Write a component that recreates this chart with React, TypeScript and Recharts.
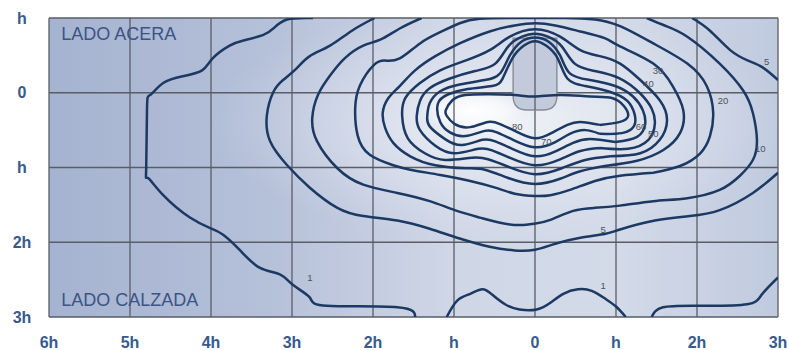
import {
  CartesianGrid,
  Line,
  LineChart,
  ReferenceArea,
  ReferenceDot,
  XAxis,
  YAxis,
} from "recharts";

// axes are in multiples of the mounting height h
const xTicks = [-6, -5, -4, -3, -2, -1, 0, 1, 2, 3];
const yTicks = [-1, 0, 1, 2, 3];

// isolux curves, [x, y] in h units (y grows downwards, towards the road)
const iso1Left: [number, number][] = [
  [-2.74, -1.0], [-3.06, -0.98], [-3.23, -0.86], [-3.36, -0.77], [-3.6, -0.7],
  [-3.77, -0.63], [-3.98, -0.46], [-4.11, -0.3], [-4.35, -0.22], [-4.59, -0.13],
  [-4.75, 0.03], [-4.79, 0.21], [-4.8, 1.01], [-4.78, 1.14], [-4.59, 1.37],
  [-4.26, 1.67], [-4.01, 1.81], [-3.85, 1.9], [-3.64, 2.11], [-3.4, 2.34],
  [-3.15, 2.43], [-2.99, 2.57], [-2.78, 2.74], [-2.57, 2.85], [-1.7, 2.87],
  [-1.48, 3.0],
];
const iso1Mid: [number, number][] = [
  [-1.09, 3.0], [-0.96, 2.78], [-0.8, 2.69], [-0.65, 2.63], [-0.53, 2.7],
  [-0.37, 2.83], [-0.19, 2.9], [0.02, 2.9], [0.19, 2.81], [0.35, 2.69],
  [0.53, 2.63], [0.7, 2.65], [0.86, 2.75], [1.0, 2.86], [1.12, 3.0],
];
const iso1Right: [number, number][] = [
  [1.44, 3.0], [1.58, 2.87], [2.04, 2.85], [2.62, 2.83], [2.8, 2.7], [3.0, 2.47],
];
const iso5: [number, number][] = [
  [-1.98, -1.0], [-2.26, -0.83], [-2.53, -0.63], [-2.78, -0.49], [-2.94, -0.33],
  [-3.11, -0.17], [-3.23, -0.01], [-3.31, 0.3], [-3.27, 0.65], [-3.06, 0.97],
  [-2.78, 1.27], [-2.44, 1.54], [-2.12, 1.65], [-1.7, 1.71], [-1.3, 1.82],
  [-0.93, 1.95], [-0.56, 2.06], [-0.25, 2.11], [0.0, 2.1], [0.25, 2.02],
  [0.56, 1.94], [0.86, 1.89], [1.05, 1.83], [1.48, 1.71], [1.91, 1.65],
  [2.28, 1.57], [2.69, 1.34], [3.0, 1.07],
];
const iso5Corner: [number, number][] = [
  [1.94, -1.0], [2.16, -0.83], [2.41, -0.57], [2.63, -0.43], [2.81, -0.34], [3.0, -0.17],
];
const iso10: [number, number][] = [
  [-1.4, -1.0], [-1.67, -0.86], [-1.91, -0.71], [-2.12, -0.63], [-2.35, -0.46],
  [-2.53, -0.23], [-2.68, 0.03], [-2.75, 0.34], [-2.69, 0.65], [-2.44, 1.01],
  [-2.12, 1.23], [-1.7, 1.34], [-1.3, 1.45], [-0.99, 1.57], [-0.68, 1.67],
  [-0.43, 1.74], [-0.19, 1.77], [0.0, 1.75], [0.19, 1.7], [0.47, 1.58],
  [0.74, 1.54], [1.05, 1.51], [1.46, 1.45], [1.88, 1.41], [2.28, 1.3],
  [2.53, 1.11], [2.69, 0.9], [2.74, 0.63], [2.69, 0.27], [2.57, -0.03],
  [2.28, -0.39], [1.88, -0.75], [1.6, -0.9], [1.38, -1.0],
];
const iso20: [number, number][] = [
  [-1.67, -0.46], [-1.42, -0.66], [-1.17, -0.81], [-0.93, -0.93], [-0.68, -0.99],
  [-0.31, -1.0], [0.0, -1.0], [0.37, -1.0], [0.74, -0.98], [1.05, -0.89],
  [1.46, -0.66], [1.88, -0.39], [2.12, -0.09], [2.2, 0.27], [2.16, 0.58],
  [2.04, 0.81], [1.79, 0.98], [1.46, 1.07], [1.05, 1.11], [0.74, 1.18],
  [0.43, 1.3], [0.19, 1.37], [0.0, 1.38], [-0.25, 1.35], [-0.49, 1.27],
  [-0.8, 1.18], [-1.17, 1.1], [-1.54, 1.03], [-1.75, 0.97], [-2.04, 0.83],
  [-2.19, 0.57], [-2.22, 0.21], [-2.16, -0.1], [-1.99, -0.37], [-1.85, -0.43],
];
const iso30: [number, number][] = [
  [-1.81, 0.07], [-1.67, -0.09], [-1.48, -0.3], [-1.23, -0.49], [-0.93, -0.66],
  [-0.56, -0.82], [-0.25, -0.9], [0.0, -0.93], [0.25, -0.9], [0.56, -0.82],
  [0.86, -0.73], [1.05, -0.62], [1.46, -0.39], [1.7, -0.09], [1.83, 0.23],
  [1.79, 0.54], [1.58, 0.77], [1.26, 0.91], [0.86, 0.98], [0.56, 1.05],
  [0.31, 1.15], [0.0, 1.22], [-0.33, 1.14], [-0.62, 1.03], [-0.86, 1.01],
  [-1.23, 0.97], [-1.54, 0.85], [-1.75, 0.67], [-1.85, 0.47], [-1.88, 0.27],
];
const iso40: [number, number][] = [
  [-1.6, 0.07], [-1.42, -0.13], [-1.17, -0.3], [-0.86, -0.43], [-0.56, -0.57],
  [-0.31, -0.75], [0.0, -0.85], [0.31, -0.75], [0.56, -0.57], [0.8, -0.49],
  [1.05, -0.39], [1.3, -0.17], [1.54, 0.1], [1.63, 0.37], [1.54, 0.63],
  [1.3, 0.81], [0.93, 0.85], [0.62, 0.9], [0.33, 1.01], [0.0, 1.09],
  [-0.33, 0.99], [-0.58, 0.89], [-0.78, 0.87], [-1.11, 0.9], [-1.36, 0.81],
  [-1.57, 0.61], [-1.64, 0.31],
];
const iso50: [number, number][] = [
  [-1.42, 0.11], [-1.3, -0.06], [-1.05, -0.19], [-0.74, -0.29], [-0.49, -0.39],
  [-0.33, -0.62], [-0.16, -0.75], [0.0, -0.79], [0.16, -0.75], [0.33, -0.62],
  [0.49, -0.39], [0.74, -0.29], [1.05, -0.19], [1.3, 0.01], [1.44, 0.21],
  [1.48, 0.41], [1.4, 0.63], [1.15, 0.75], [0.8, 0.74], [0.56, 0.78],
  [0.31, 0.89], [0.0, 0.97], [-0.31, 0.87], [-0.53, 0.77], [-0.7, 0.75],
  [-0.99, 0.81], [-1.23, 0.71], [-1.42, 0.5], [-1.46, 0.31],
];
const iso60: [number, number][] = [
  [-1.3, 0.14], [-1.17, -0.02], [-0.93, -0.11], [-0.62, -0.17], [-0.43, -0.26],
  [-0.31, -0.5], [-0.16, -0.69], [0.0, -0.74], [0.16, -0.69], [0.31, -0.5],
  [0.43, -0.26], [0.68, -0.17], [0.99, -0.09], [1.21, 0.05], [1.33, 0.23],
  [1.36, 0.42], [1.26, 0.59], [0.99, 0.66], [0.68, 0.62], [0.47, 0.67],
  [0.26, 0.78], [0.0, 0.85], [-0.28, 0.75], [-0.49, 0.65], [-0.65, 0.63],
  [-0.9, 0.7], [-1.11, 0.62], [-1.3, 0.45], [-1.33, 0.31],
];
const iso70: [number, number][] = [
  [-1.2, 0.15], [-1.07, 0.02], [-0.83, -0.05], [-0.53, -0.09], [-0.4, -0.19],
  [-0.28, -0.46], [-0.14, -0.63], [0.0, -0.69], [0.14, -0.63], [0.28, -0.46],
  [0.4, -0.19], [0.62, -0.09], [0.93, -0.01], [1.14, 0.11], [1.23, 0.29],
  [1.22, 0.45], [1.07, 0.54], [0.8, 0.55], [0.62, 0.5], [0.43, 0.55],
  [0.25, 0.66], [0.0, 0.73], [-0.27, 0.63], [-0.47, 0.53], [-0.62, 0.51],
  [-0.86, 0.58], [-1.05, 0.53], [-1.17, 0.39],
];
const iso80: [number, number][] = [
  [-1.1, 0.23], [-1.02, 0.1], [-0.86, 0.03], [-0.56, 0.02], [-0.25, 0.03],
  [0.0, 0.05], [0.31, 0.03], [0.68, 0.05], [0.95, 0.07], [1.1, 0.18],
  [1.15, 0.31], [1.05, 0.39], [0.8, 0.43], [0.56, 0.39], [0.4, 0.43],
  [0.22, 0.53], [0.0, 0.61], [-0.25, 0.51], [-0.43, 0.42], [-0.58, 0.39],
  [-0.8, 0.46], [-0.99, 0.42], [-1.09, 0.31],
];

const openCurves = [iso1Left, iso1Mid, iso1Right, iso5, iso5Corner, iso10];
// closed curves with the index where the loop is joined
const closedCurves: { pts: [number, number][]; seam: number }[] = [
  { pts: iso20, seam: 17 },
  { pts: iso30, seam: 18 },
  { pts: iso40, seam: 16 },
  { pts: iso50, seam: 18 },
  { pts: iso60, seam: 17 },
  { pts: iso70, seam: 17 },
  { pts: iso80, seam: 12 },
];

const curveLabels = [
  { text: "5", x: 2.86, y: -0.42 },
  { text: "30", x: 1.52, y: -0.3 },
  { text: "40", x: 1.4, y: -0.13 },
  { text: "20", x: 2.32, y: 0.11 },
  { text: "10", x: 2.78, y: 0.74 },
  { text: "60", x: 1.31, y: 0.45 },
  { text: "50", x: 1.46, y: 0.55 },
  { text: "80", x: -0.22, y: 0.45 },
  { text: "70", x: 0.14, y: 0.65 },
  { text: "5", x: 0.84, y: 1.83 },
  { text: "1", x: -2.78, y: 2.47 },
  { text: "1", x: 0.84, y: 2.58 },
];

const sideLabels = [
  { text: "LADO ACERA", x: -5.85, y: -0.7 },
  { text: "LADO CALZADA", x: -5.85, y: 2.85 },
];

// luminaire outline
const lamp = { x1: -0.27, x2: 0.27, y1: -0.73, y2: 0.23 };

const LINE = "#1c3963";
const GRID = "#585d66";
const TICK = "#385a8e";
const FONT = "'Liberation Sans', Arial, sans-serif";

const toPoints = (arr: [number, number][]) => arr.map(([x, y]) => ({ x, y }));

const closeLoop = (arr: [number, number][], seam: number) => {
  const rotated = [...arr.slice(seam), ...arr.slice(0, seam)];
  return toPoints([...rotated, rotated[0]]);
};

const fmtH = (v: number) => {
  const a = Math.abs(v);
  if (a === 0) return "0";
  if (a === 1) return "h";
  return `${a}h`;
};

const AxisTick = (p: any) => (
  <text
    x={p.x}
    y={p.y}
    textAnchor="middle"
    dominantBaseline="central"
    fill={TICK}
    fontSize={16}
    fontWeight="bold"
    fontFamily={FONT}
  >
    {fmtH(p.payload.value)}
  </text>
);

const LampShape = (p: any) => {
  const { x, y, width, height } = p;
  const r = 14;
  const d = `M${x},${y} H${x + width} V${y + height - r} Q${x + width},${y + height} ${
    x + width - r
  },${y + height} H${x + r} Q${x},${y + height} ${x},${y + height - r} Z`;
  return (
    <g>
      <path d={d} fill="#c2cadc" stroke="#878c95" strokeWidth={1.4} />
      <line
        x1={x + width / 2}
        x2={x + width / 2}
        y1={y}
        y2={y + height}
        stroke={GRID}
        strokeWidth={1.3}
      />
    </g>
  );
};

export default function App() {
  return (
    <div style={{ position: "absolute", left: 0, top: 0, background: "#fff" }}>
      <LineChart
        width={789}
        height={350}
        margin={{ top: 18, right: 11, bottom: 0, left: 0 }}
      >
        <defs>
          <linearGradient id="bgLin" x1="0" y1="0" x2="1" y2="0">
            <stop offset="0" stopColor="#a6b3d0" />
            <stop offset="0.3" stopColor="#b5c0d9" />
            <stop offset="0.55" stopColor="#cfd6e6" />
            <stop offset="0.78" stopColor="#d3dae8" />
            <stop offset="1" stopColor="#c0cadf" />
          </linearGradient>
          <radialGradient id="bgGlow" cx="0.62" cy="0.35" r="0.4">
            <stop offset="0" stopColor="#ffffff" stopOpacity="0.7" />
            <stop offset="0.5" stopColor="#eef1f7" stopOpacity="0.4" />
            <stop offset="1" stopColor="#e6eaf2" stopOpacity="0" />
          </radialGradient>
          <radialGradient id="bgSpot" cx="0.58" cy="0.31" r="0.07">
            <stop offset="0" stopColor="#ffffff" stopOpacity="1" />
            <stop offset="0.6" stopColor="#ffffff" stopOpacity="0.6" />
            <stop offset="1" stopColor="#ffffff" stopOpacity="0" />
          </radialGradient>
          <pattern
            id="plotBg"
            patternUnits="objectBoundingBox"
            patternContentUnits="objectBoundingBox"
            width="1"
            height="1"
          >
            <rect width="1" height="1" fill="url(#bgLin)" />
            <rect width="1" height="1" fill="url(#bgGlow)" />
            <rect width="1" height="1" fill="url(#bgSpot)" />
          </pattern>
        </defs>

        <CartesianGrid
          fill="url(#plotBg)"
          fillOpacity={1}
          stroke={GRID}
          strokeWidth={1.3}
        />

        <XAxis
          type="number"
          dataKey="x"
          domain={[-6, 3]}
          ticks={xTicks}
          interval={0}
          allowDataOverflow
          axisLine={false}
          tickLine={false}
          height={33}
          tickMargin={19}
          tick={AxisTick}
        />
        <YAxis
          type="number"
          dataKey="y"
          domain={[-1, 3]}
          ticks={yTicks}
          interval={0}
          reversed
          allowDataOverflow
          axisLine={false}
          tickLine={false}
          width={49}
          tickMargin={21}
          tick={AxisTick}
        />

        {openCurves.map((c, i) => (
          <Line
            key={`open-${i}`}
            data={toPoints(c)}
            dataKey="y"
            type="natural"
            stroke={LINE}
            strokeWidth={2.5}
            dot={false}
            activeDot={false}
            isAnimationActive={false}
          />
        ))}
        {closedCurves.map((c, i) => (
          <Line
            key={`closed-${i}`}
            data={closeLoop(c.pts, c.seam)}
            dataKey="y"
            type="natural"
            stroke={LINE}
            strokeWidth={2.5}
            dot={false}
            activeDot={false}
            isAnimationActive={false}
          />
        ))}

        <ReferenceArea
          x1={lamp.x1}
          x2={lamp.x2}
          y1={lamp.y1}
          y2={lamp.y2}
          shape={LampShape}
        />

        {curveLabels.map((l, i) => (
          <ReferenceDot
            key={`lbl-${i}`}
            x={l.x}
            y={l.y}
            r={0}
            shape={(p: any) => (
              <text
                x={p.cx}
                y={p.cy}
                textAnchor="middle"
                dominantBaseline="central"
                fill="#4d525a"
                fontSize={9.5}
                fontFamily={FONT}
              >
                {l.text}
              </text>
            )}
          />
        ))}
        {sideLabels.map((l, i) => (
          <ReferenceDot
            key={`side-${i}`}
            x={l.x}
            y={l.y}
            r={0}
            shape={(p: any) => (
              <text
                x={p.cx}
                y={p.cy}
                fill="#3a5585"
                fontSize={18}
                fontFamily={FONT}
              >
                {l.text}
              </text>
            )}
          />
        ))}
      </LineChart>
    </div>
  );
}
